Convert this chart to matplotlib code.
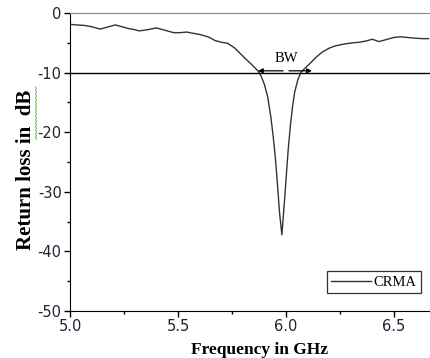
import matplotlib
matplotlib.use("Agg")
import matplotlib.pyplot as plt
from matplotlib.lines import Line2D
from matplotlib.ticker import MultipleLocator

# return loss curve (GHz, dB)
freq = [5.00, 5.03, 5.07, 5.10, 5.14, 5.17, 5.21, 5.24, 5.27, 5.30, 5.32,
        5.36, 5.40, 5.44, 5.48, 5.51, 5.54, 5.57, 5.60, 5.64, 5.67, 5.70,
        5.73, 5.76, 5.78, 5.81, 5.84, 5.87, 5.885, 5.90, 5.915, 5.93, 5.94,
        5.95, 5.96, 5.97, 5.981, 5.99, 6.00, 6.01, 6.02, 6.03, 6.04, 6.055,
        6.07, 6.09, 6.11, 6.14, 6.17, 6.20, 6.23, 6.27, 6.31, 6.34, 6.37,
        6.40, 6.43, 6.46, 6.50, 6.53, 6.56, 6.59, 6.63, 6.66]
rl_db = [-1.9, -2.0, -2.1, -2.3, -2.7, -2.4, -2.0, -2.3, -2.6, -2.8, -3.0,
         -2.8, -2.5, -2.9, -3.3, -3.3, -3.2, -3.4, -3.6, -4.0, -4.6, -4.9,
         -5.1, -5.8, -6.5, -7.6, -8.6, -9.7, -10.6, -12.0, -14.0, -17.5, -20.5,
         -24.0, -28.5, -33.5, -37.2, -33.0, -28.0, -23.0, -19.0, -15.8, -13.3, -11.2,
         -9.9, -9.2, -8.5, -7.4, -6.5, -5.9, -5.5, -5.2, -5.0, -4.9, -4.7,
         -4.4, -4.8, -4.5, -4.1, -4.0, -4.1, -4.2, -4.3, -4.3]

bw_level = -10
bw_lo, bw_hi = 5.87, 6.12

serif = ["Liberation Serif", "DejaVu Serif"]
plt.rcParams["axes.unicode_minus"] = False

fig = plt.figure(figsize=(4.30, 3.58), dpi=100)
ax = fig.add_axes([70 / 430, 47 / 358, 380 / 430, 298 / 358])

ax.plot(freq, rl_db, color="#333333", lw=1.0, label="CRMA")
ax.axhline(bw_level, color="black", lw=1.0)

ax.annotate("", xy=(bw_lo, -9.7), xytext=(5.986, -9.7),
            arrowprops=dict(arrowstyle="-|>", color="black", lw=0.9,
                            mutation_scale=7, shrinkA=0, shrinkB=0))
ax.annotate("", xy=(bw_hi, -9.7), xytext=(6.014, -9.7),
            arrowprops=dict(arrowstyle="-|>", color="black", lw=0.9,
                            mutation_scale=7, shrinkA=0, shrinkB=0))
ax.text(6.0, -7.6, "BW", family=serif, fontsize=10.5, ha="center", va="center")

ax.set_xlim(5.0, 5.0 + 380 / 216)
ax.set_ylim(-50, 0)
ax.xaxis.set_major_locator(MultipleLocator(0.5))
ax.xaxis.set_minor_locator(MultipleLocator(0.25))
ax.yaxis.set_major_locator(MultipleLocator(10))
ax.yaxis.set_minor_locator(MultipleLocator(5))
ax.xaxis.set_major_formatter(plt.FormatStrFormatter("%.1f"))
ax.tick_params(which="major", direction="out", length=4, width=1,
               labelsize=10.5, labelcolor="#222233", pad=2)
ax.tick_params(which="minor", direction="out", length=2.5, width=1)

ax.spines["top"].set_color("#888888")
ax.spines["right"].set_visible(False)

ax.set_xlabel("Frequency in GHz", family=serif, fontweight="bold",
              fontsize=12.5)
ax.xaxis.set_label_coords((260 - 70) / 380, -0.105)
ax.set_ylabel("Return loss in  dB", family=serif, fontweight="bold",
              fontsize=15)
ax.yaxis.set_label_coords(-(70 - 36) / 380, (311 - 170) / 298)

# spell-check squiggle under "dB" in the source image
sq_y = [87 + 1.8 * i for i in range(30)]
sq_x = [36 + (0.6 if i % 2 else -0.6) for i in range(30)]
fig.add_artist(Line2D([x / 430 for x in sq_x], [1 - y / 358 for y in sq_y],
                      color="#66bb55", lw=0.7, transform=fig.transFigure))

leg = ax.legend(loc="lower right", bbox_to_anchor=((421 - 70) / 380, 18 / 298),
                prop={"family": serif, "size": 10.5}, frameon=True,
                fancybox=False, handlelength=2.7, borderpad=0.3,
                handletextpad=0.2, borderaxespad=0)
leg.get_frame().set_edgecolor("black")
leg.get_frame().set_linewidth(0.9)

fig.savefig("out.png", dpi=100)
